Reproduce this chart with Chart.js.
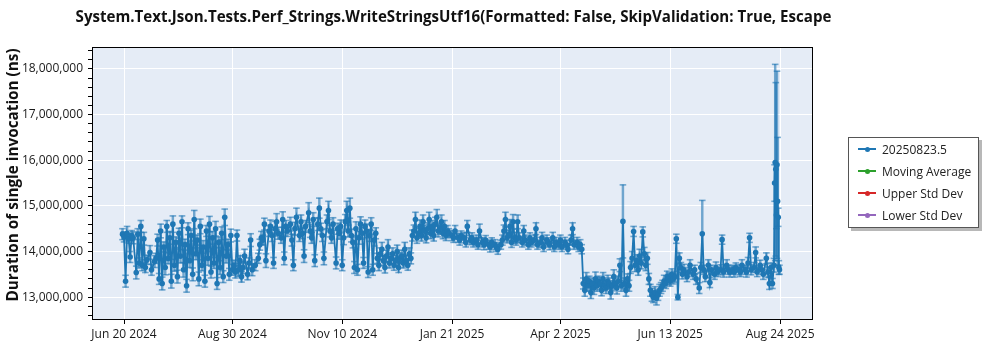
<!DOCTYPE html>
<html>
<head>
<meta charset="utf-8">
<script src="https://cdn.jsdelivr.net/npm/chart.js@4.4.1/dist/chart.umd.min.js"></script>
<style>
  body { margin: 0; background: #fff; }
  #wrap { position: relative; width: 1000px; height: 350px; }
  #legend {
    position: absolute; left: 848px; top: 137px; width: 131px; height: 91px;
    box-sizing: border-box; border: 1px solid #555; background: #fff;
    box-shadow: 3px 3px 0 rgba(0, 0, 0, 0.28);
    font: 12px 'Open Sans', sans-serif; color: #222;
  }
  .item { display: flex; align-items: center; height: 22px; white-space: nowrap; }
  .mark { position: relative; width: 18px; height: 8px; margin: 0 6px 0 9px; }
  .mark .ln { position: absolute; left: 0; right: 0; top: 3px; height: 1.5px; }
  .mark .dot { position: absolute; left: 6.5px; top: 1.5px; width: 5px; height: 5px; border-radius: 50%; }
</style>
</head>
<body>
<div id="wrap">
  <canvas id="chart" width="1000" height="350"></canvas>
  <div id="legend"></div>
</div>
<script>
// Runs. Day = days after startDate.
const startDate = '2024-06-19';

const runDays = [
  0, 1, 2, 3, 4, 5, 6, 7, 9, 10,
  11, 12, 13, 14, 15, 16, 18, 19, 21, 22,
  23, 24, 25, 26, 27, 28, 29, 30, 31, 32, 33, 34, 35, 36, 37, 38, 39, 40, 41, 42,
  43, 44, 45, 46, 47, 48, 49, 50, 51, 52, 53, 54, 55, 56, 57, 58, 59, 60, 61, 62,
  63, 64, 65, 66, 67, 68, 69, 70, 71, 72,
  73, 74, 75, 76, 77, 78, 79, 80, 82, 83, 84, 85, 87, 89,
  90, 91, 92, 93, 94, 96, 97, 98, 99, 100, 101, 102, 104, 105, 106, 107, 108, 110, 111, 112,
  113, 114, 116, 117, 118, 119, 120, 122, 123, 124, 125, 126, 128, 129, 130, 131, 132, 134, 135, 136,
  137, 138, 140, 141,
  142, 143, 144, 145, 146, 147, 148, 149, 150, 151, 152, 153, 154, 155, 156, 157, 158, 159, 160, 161,
  162, 163, 164, 165, 166,
  167, 168, 169, 170, 171, 172, 173, 174, 175, 176, 177, 178, 179, 180, 181, 182, 183, 184, 185, 186,
  187, 188, 189,
  190, 191, 192, 193, 194, 195, 196, 197, 198, 199, 200, 201, 202, 203, 204, 205, 206, 207, 208, 209,
  210, 211, 212, 213,
  214, 216, 217, 218, 220, 221, 222, 224, 225, 226, 228, 229, 230, 232, 233, 234, 236, 237, 238, 240,
  241, 242, 244, 245, 246, 248,
  249, 250, 251, 252, 253, 254, 255, 256, 257, 258, 259,
  260, 262, 263, 264, 266, 267, 268, 270, 271, 272, 274, 275, 276, 278, 279, 280, 282, 283, 284, 286,
  287, 288, 290, 291, 292, 294, 295, 296, 298, 299, 300, 301,
  302, 303, 304, 305, 306, 307, 308, 309, 310, 311, 312, 313, 314, 315, 316, 317, 318, 319, 320, 321,
  322, 323, 324, 325, 326, 327, 328, 329, 330, 331, 332,
  333, 334, 335, 336, 337, 338, 339, 340, 341, 342, 343, 344,
  345, 346, 347, 348, 349, 350, 351, 352, 353,
  354, 355, 356, 357, 358, 359, 360, 361, 362,
  363, 364, 365, 366, 367, 368, 370, 371, 372, 374, 375, 376, 378, 379, 380, 381, 382, 384, 385, 386,
  388, 389, 390, 392, 393, 394, 396, 397, 398, 400, 401, 402, 404, 405, 406, 408, 409, 410, 411, 412,
  414, 415, 416, 418, 419, 420, 422, 423, 424, 425, 426,
  427, 427.4, 427.8, 428.2, 428.6, 429, 429.4, 429.8, 430.2, 430.6
];

// mean duration per run, thousands of ns
const durationsK = [
  14380, 14320, 13350, 14400, 14280, 13880, 14350, 14300, 13540, 14380,
  13750, 14550, 13700, 14280, 13650, 13820, 13980, 13600, 13780, 13850,
  14250, 13400, 14450, 13300, 14100, 13650, 14550, 13850, 14300, 13350,
  14600, 13700, 14200, 13450, 14400, 13900, 14650, 13600, 14150, 13250,
  14500, 13800, 14350, 13500, 14700, 13950, 14250, 13400, 14550, 13700,
  14100, 13350, 14450, 13850, 14600, 13550, 14300, 13750, 14500, 13300,
  14200, 13650, 14400, 13450, 14750, 13900, 14150, 13500, 14350, 13600,
  13700, 13550, 14350, 13600, 13800, 13450, 13650, 13900, 13500, 13750, 14250, 13600, 13700, 13850,
  14150, 14300, 14250, 14600, 13800, 14450, 14550, 14350, 13750, 14500,
  14650, 14400, 14300, 14700, 13850, 14550, 14450, 14600, 14250, 13700,
  14500, 14750, 14350, 14650, 14400, 13900, 14550, 14850, 14450, 14300,
  14700, 13800, 14600, 14950, 14500, 14350, 13850, 14650, 14900, 14450,
  14300, 14600, 13750, 14500,
  14400, 14550, 13700, 14300, 14650, 14900, 14450, 14950, 14350, 14200,
  13650, 14500, 13600, 14300, 14600, 14400, 13750, 14550, 14450, 13550,
  14350, 14600, 13600, 14250, 14400,
  13850, 13700, 13950, 14050, 13800, 13650, 13900, 14100, 13750, 13850,
  13950, 13700, 13800, 14000, 13650, 13850, 13900, 13750, 14050, 13800,
  13700, 13950, 13850,
  14350, 14450, 14700, 14300, 14400, 14550, 14350, 14650, 14450, 14300,
  14500, 14700, 14400, 14550, 14350, 14600, 14750, 14450, 14500, 14650,
  14400, 14550, 14350, 14450,
  14400, 14350, 14300, 14450, 14300, 14250, 14350, 14300, 14200, 14550,
  14250, 14300, 14200, 14250, 14150, 14450, 14200, 14150, 14250, 14150,
  14100, 14200, 14150, 14100, 14050, 14150,
  14250, 14450, 14700, 14300, 14350, 14550, 14200, 14650, 14300, 14250, 14650,
  14300, 14200, 14450, 14250, 14150, 14300, 14200, 14250, 14500, 14150,
  14200, 14300, 14100, 14250, 14200, 14150, 14300, 14100, 14200, 14150,
  14250, 14100, 14200, 14150, 14050, 14250, 14500, 14150, 14200, 14100, 14150, 14050,
  13300, 13150, 13400, 13250, 13350, 13100, 13300, 13200, 13400, 13250,
  13350, 13300, 13150, 13400, 13250, 13200, 13350, 13300, 13100, 13250,
  13450, 13300, 13200, 13350, 13700, 13250, 14660, 13300, 13150, 13400, 13250,
  13650, 13850, 14440, 13700, 13800, 13600, 13900, 13750, 14430, 13950, 13700, 13850,
  13400, 13150, 13050, 13000, 13100, 12980, 13050, 13150, 13200,
  13250, 13350, 13300, 13450, 13400, 13350, 13500, 13400, 13450,
  14280, 13000, 13850, 13650, 13500, 13600, 13450, 13550, 13700, 13500,
  13600, 13400, 13200, 13650, 14390, 13600, 13450, 13700, 13320, 13600,
  13500, 13650, 13550, 13600, 14260, 13550, 13700, 13600, 13550, 13600,
  13550, 13650, 13600, 13550, 13700, 13600, 13550, 13750, 14300, 13600,
  13650, 13980, 13550, 13700, 13600, 13500, 13850, 13550, 13300, 13650, 13300,
  13700, 15500, 15950, 15800, 14800, 15900, 15100, 14750, 13650, 13600
];

// error bar half-height per run, thousands of ns
const errorsK = [
  120, 110, 130, 150, 100, 120, 110, 130, 140, 120,
  110, 130, 120, 140, 110, 100, 150, 120, 130, 110,
  130, 120, 150, 140, 110, 160, 130, 120, 140, 150,
  180, 130, 120, 140, 110, 150, 130, 160, 120, 140,
  130, 150, 120, 140, 200, 130, 110, 150, 160, 120,
  140, 130, 120, 150, 170, 130, 140, 120, 160, 130,
  120, 150, 140, 130, 180, 150, 120, 130, 140, 120,
  110, 130, 120, 140, 110, 120, 130, 150, 120, 110, 140, 130, 120, 110,
  120, 140, 110, 130, 150, 120, 140, 130, 120, 160,
  180, 130, 120, 170, 140, 130, 120, 150, 130, 120,
  140, 200, 130, 150, 120, 140, 130, 220, 140, 120,
  150, 130, 140, 220, 120, 130, 140, 150, 200, 130,
  120, 140, 130, 120,
  130, 140, 120, 150, 160, 200, 130, 220, 140, 120,
  130, 150, 120, 140, 160, 130, 120, 140, 150, 120,
  130, 140, 120, 130, 120,
  110, 120, 130, 150, 110, 120, 130, 160, 110, 120,
  130, 110, 120, 140, 110, 120, 130, 110, 150, 120,
  110, 130, 120,
  120, 130, 160, 120, 110, 140, 120, 150, 130, 110,
  130, 160, 120, 130, 120, 150, 170, 130, 120, 150,
  120, 130, 110, 120,
  100, 110, 100, 120, 100, 110, 100, 110, 100, 130,
  100, 110, 100, 110, 100, 150, 100, 110, 100, 100,
  110, 100, 110, 100, 110, 100,
  110, 130, 160, 110, 120, 150, 110, 160, 120, 110, 150,
  110, 100, 120, 110, 100, 110, 100, 110, 130, 100,
  110, 120, 100, 110, 100, 110, 120, 100, 110, 100,
  110, 100, 110, 100, 100, 110, 130, 100, 110, 100, 110, 100,
  120, 130, 140, 120, 110, 130, 120, 140, 150, 120,
  110, 130, 120, 140, 110, 120, 130, 120, 140, 110,
  150, 120, 130, 110, 140, 120, 800, 120, 130, 110, 120,
  130, 150, 110, 140, 130, 120, 150, 130, 110, 140, 120, 130,
  120, 130, 140, 120, 130, 150, 120, 130, 120,
  120, 130, 110, 120, 130, 110, 120, 110, 120,
  100, 60, 120, 110, 100, 120, 110, 100, 120, 110,
  100, 120, 120, 110, 730, 100, 110, 120, 110, 100,
  110, 120, 100, 110, 100, 110, 120, 100, 110, 100,
  110, 100, 110, 100, 120, 100, 110, 120, 100, 110,
  110, 120, 100, 110, 100, 110, 120, 110, 130, 100, 110,
  150, 400, 2150, 1900, 300, 2050, 1400, 200, 150, 100
];

const xTickDates = ['2024-06-20', '2024-08-30', '2024-11-10', '2025-01-21', '2025-04-02', '2025-06-13', '2025-08-24'];
const xTickLabels = ['Jun 20 2024', 'Aug 30 2024', 'Nov 10 2024', 'Jan 21 2025', 'Apr 2 2025', 'Jun 13 2025', 'Aug 24 2025'];
const yTickValues = [13000000, 14000000, 15000000, 16000000, 17000000, 18000000];
const yTickLabels = ['13,000,000', '14,000,000', '15,000,000', '16,000,000', '17,000,000', '18,000,000'];
const yMinorStep = 200000;

const seriesNames = ['20250823.5', 'Moving Average', 'Upper Std Dev', 'Lower Std Dev'];
const seriesColors = ['#1f77b4', '#2ca02c', '#d62728', '#9467bd'];

const chartTitle = 'System.Text.Json.Tests.Perf_Strings.WriteStringsUtf16(Formatted: False, SkipValidation: True, Escape';
const yTitle = 'Duration of single invocation (ns)';

const FONT = "'Open Sans', sans-serif";
const DAY = 86400000;
const t0 = Date.parse(startDate + 'T00:00:00Z');
const toTime = d => t0 + d * DAY;

// which major y tick (if any) a tick value sits on
const majorIndex = v => yTickValues.findIndex(t => Math.abs(t - v) < 1);

// Build datasets
const mainPoints = runDays.map((d, i) => ({ x: toTime(d), y: durationsK[i] * 1000 }));
const whiskers = runDays.map((d, i) => ({
    x: toTime(d),
    y: [(durationsK[i] - errorsK[i]) * 1000, (durationsK[i] + errorsK[i]) * 1000]
}));
const caps = [];
runDays.forEach((d, i) => {
    caps.push({ x: toTime(d), y: (durationsK[i] - errorsK[i]) * 1000 });
    caps.push({ x: toTime(d), y: (durationsK[i] + errorsK[i]) * 1000 });
});

const errColor = 'rgba(31, 119, 180, 0.6)';

const datasets = [
    {
        type: 'line', label: seriesNames[0], data: mainPoints, inLegend: true,
        borderColor: seriesColors[0], backgroundColor: seriesColors[0],
        borderWidth: 1.8, pointRadius: 2.8, pointBorderWidth: 0, tension: 0, order: 0
    },
    {
        type: 'bar', label: 'err', data: whiskers, grouped: false,
        backgroundColor: errColor, barThickness: 1.8, order: 2
    },
    {
        type: 'scatter', label: 'caps', data: caps,
        pointStyle: 'line', pointRadius: 3.3, borderColor: errColor, borderWidth: 1.6, order: 1
    }
];
for (let i = 1; i < seriesNames.length; i++) {
    datasets.push({
        type: 'line', label: seriesNames[i], data: [], inLegend: true,
        borderColor: seriesColors[i], backgroundColor: seriesColors[i], order: 0
    });
}

// Background, frame and titles
const chrome = {
    id: 'chrome',
    beforeDraw(chart) {
        const { ctx, chartArea: a } = chart;
        ctx.save();
        ctx.fillStyle = '#e5ecf6';
        ctx.fillRect(a.left, a.top, a.right - a.left, a.bottom - a.top);
        ctx.restore();
    },
    afterDraw(chart) {
        const { ctx, chartArea: a } = chart;
        ctx.save();
        ctx.strokeStyle = '#000';
        ctx.lineWidth = 1;
        ctx.strokeRect(a.left + 0.5, a.top + 0.5, a.right - a.left - 1, a.bottom - a.top - 1);

        ctx.fillStyle = '#111';
        ctx.textAlign = 'center';
        ctx.textBaseline = 'middle';
        ctx.font = 'bold 15.1px ' + FONT;
        ctx.fillText(chartTitle, (a.left + a.right) / 2 + 1, 18);

        ctx.translate(14, 175);
        ctx.rotate(-Math.PI / 2);
        ctx.font = 'bold 15.3px ' + FONT;
        ctx.fillText(yTitle, 0, 0);
        ctx.restore();
    }
};

const chart = new Chart(document.getElementById('chart'), {
    type: 'line',
    data: { datasets },
    options: {
        responsive: false,
        animation: false,
        layout: { padding: { top: 47, right: 187, bottom: 0, left: 0 } },
        plugins: {
            legend: { display: false },
            tooltip: { enabled: false },
            title: { display: false }
        },
        scales: {
            x: {
                type: 'linear',
                offset: false,
                min: Date.parse('2024-05-30T00:00:00Z'),
                max: Date.parse('2025-09-14T14:00:00Z'),
                afterBuildTicks: s => { s.ticks = xTickDates.map(d => ({ value: Date.parse(d + 'T00:00:00Z') })); },
                afterFit: s => { s.height = 30; },
                grid: { offset: false, color: '#fff', lineWidth: 1, tickColor: '#000', tickLength: 4 },
                border: { display: false },
                ticks: {
                    autoSkip: false, maxRotation: 0, padding: 3, color: '#1a1a1a',
                    font: { family: FONT, size: 12 },
                    callback: (v, i) => xTickLabels[i]
                }
            },
            y: {
                type: 'linear',
                min: 12500000,
                max: 18480000,
                // majors carry labels, minors every 200k only get a tick mark
                afterBuildTicks: s => {
                    const ticks = [];
                    const first = Math.ceil(s.min / yMinorStep) * yMinorStep;
                    for (let v = first; v <= s.max; v += yMinorStep) ticks.push({ value: v });
                    s.ticks = ticks;
                },
                afterFit: s => { s.width = 92; },
                grid: {
                    color: c => (c.tick && majorIndex(c.tick.value) >= 0) ? '#fff' : 'rgba(0,0,0,0)',
                    lineWidth: 1, tickColor: '#000', tickLength: 4
                },
                border: { display: false },
                ticks: {
                    autoSkip: false, padding: 5, color: '#1a1a1a',
                    font: { family: FONT, size: 12 },
                    callback: v => {
                        const i = majorIndex(v);
                        return i >= 0 ? yTickLabels[i] : '';
                    }
                }
            }
        }
    },
    plugins: [chrome]
});

// HTML legend from the datasets
const legendEl = document.getElementById('legend');
legendEl.innerHTML = chart.data.datasets.filter(d => d.inLegend).map(d => `
    <div class="item">
        <span class="mark"><span class="ln" style="background:${d.borderColor}"></span><span class="dot" style="background:${d.borderColor}"></span></span>
        <span>${d.label}</span>
    </div>
`).join('');
</script>
</body>
</html>
